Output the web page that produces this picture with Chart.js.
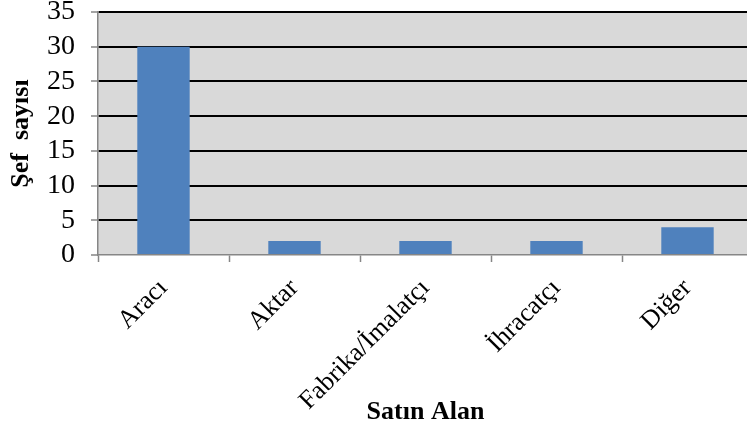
<!DOCTYPE html>
<html>
<head>
<meta charset="utf-8">
<script src="https://cdn.jsdelivr.net/npm/chart.js@4/dist/chart.umd.min.js"></script>
<style>
  html, body { margin: 0; padding: 0; background: #fff; overflow: hidden; }
  #wrap { position: absolute; left: 0; top: 0; width: 753px; height: 432px; }
</style>
</head>
<body>
<div id="wrap"><canvas id="chefChart" width="753" height="432"></canvas></div>
<script>
// data
const categories = ['Aracı', 'Aktar', 'Fabrika/İmalatçı', 'İhracatçı', 'Diğer'];
const chefCounts = [30, 2, 2, 2, 4];
const yTicks = [0, 5, 10, 15, 20, 25, 30, 35];

const serif = '"Liberation Serif", "Times New Roman", serif';

// grey plot background
const plotBg = {
  id: 'plotBg',
  beforeDraw(chart) {
    const a = chart.chartArea;
    const ctx = chart.ctx;
    ctx.save();
    ctx.fillStyle = '#d9d9d9';
    ctx.fillRect(a.left, a.top, a.right - a.left, a.bottom - a.top);
    ctx.restore();
  }
};

const ctx = document.getElementById('chefChart').getContext('2d');
new Chart(ctx, {
  type: 'bar',
  data: {
    labels: categories,
    datasets: [{
      data: chefCounts,
      backgroundColor: '#4f81bd',
      borderWidth: 0,
      categoryPercentage: 1,
      barPercentage: 0.4
    }]
  },
  options: {
    responsive: false,
    animation: false,
    layout: { padding: { top: 12, right: 0, left: 0, bottom: 0 } },
    plugins: {
      legend: { display: false },
      tooltip: { enabled: false }
    },
    scales: {
      x: {
        grid: {
          offset: true,
          drawOnChartArea: false,
          tickLength: 7,
          tickColor: '#868686',
          tickWidth: 1.5
        },
        border: { color: '#868686', width: 1.5 },
        ticks: {
          color: '#000',
          font: { family: serif, size: 26 },
          minRotation: 45,
          maxRotation: 45,
          autoSkip: false,
          padding: 11
        },
        title: {
          display: true,
          text: 'Satın Alan',
          color: '#000',
          font: { family: serif, size: 26, weight: 'bold' },
          padding: { top: 0, bottom: 4 }
        },
        afterFit(scale) {
          scale.height = 177;
          scale.paddingLeft = 0;
          scale.paddingRight = 0;
        }
      },
      y: {
        min: 0,
        max: 35,
        afterBuildTicks(scale) { scale.ticks = yTicks.map(v => ({ value: v })); },
        grid: {
          color: c => (c.tick && c.tick.value === 0) ? 'rgba(0,0,0,0)' : '#000',
          lineWidth: 2,
          tickLength: 7,
          tickColor: '#868686',
          tickWidth: 1.5
        },
        border: { color: '#868686', width: 1.5 },
        ticks: {
          color: '#000',
          font: { family: serif, size: 28 },
          autoSkip: false,
          padding: 16
        },
        title: {
          display: true,
          text: 'Şef  sayısı',
          color: '#000',
          font: { family: serif, size: 26, weight: 'bold' },
          padding: { top: 6, bottom: 0 }
        },
        afterFit(scale) {
          scale.width = 98;
          scale.paddingTop = 0;
          scale.paddingBottom = 0;
        }
      }
    }
  },
  plugins: [plotBg]
});
</script>
</body>
</html>
